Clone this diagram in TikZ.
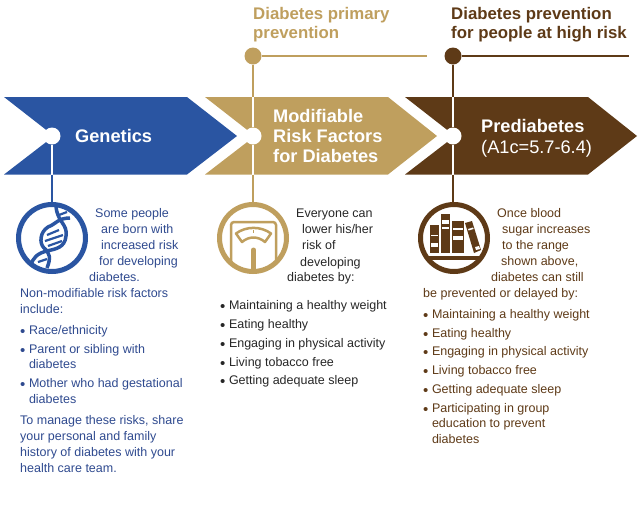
\documentclass[tikz,border=0pt]{standalone}
\usepackage{fontspec}
\setmainfont{Liberation Sans}
\usetikzlibrary{positioning}
\definecolor{bluefill}{HTML}{2A55A2}
\definecolor{bluetext}{HTML}{2F4A8F}
\definecolor{tanfill}{HTML}{BF9F5E}
\definecolor{brownfill}{HTML}{5E3A17}
\newcommand{\bul}{\makebox[8.8pt][l]{\raisebox{-2pt}{\fontsize{15}{15}\selectfont •}}}
\tikzset{
  lbl/.style={anchor=base west,inner sep=0,font=\fontsize{12.5}{14}\selectfont},
  arrowtxt/.style={anchor=base west,inner sep=0,font=\fontsize{18.2}{20}\selectfont\bfseries,text=white},
  headtxt/.style={anchor=base west,inner sep=0,font=\fontsize{16.8}{19}\selectfont\bfseries},
  hole/.style={circle,fill=white,inner sep=0,minimum size=17pt},
  dot/.style={circle,inner sep=0,minimum size=17pt},
  ring/.style={circle,draw,line width=5pt,fill=white,inner sep=0,minimum size=67pt},
  link/.style={line width=2.8pt},
}
\begin{document}
\begin{tikzpicture}[x=1pt,y=-1pt]
        \useasboundingbox (0,0) rectangle (639,531);
        % chevrons
        \fill[bluefill] (4,97) -- (187,97) -- (237,136) -- (187,174.5) -- (4,174.5) -- (54,136) -- cycle;
        \fill[tanfill] (205,97) -- (388,97) -- (437,136) -- (388,174.5) -- (205,174.5) -- (255,136) -- cycle;
        \fill[brownfill] (405,97) -- (588,97) -- (637,136) -- (588,174.5) -- (405,174.5) -- (455,136) -- cycle;
        % timeline nodes
        \node[hole] (gen) at (52,136) {};
        \node[hole] (mod) at (253,136) {};
        \node[hole] (pre) at (453,136) {};
        \node[dot,fill=tanfill] (primary) at (253,56) {};
        \node[dot,fill=brownfill] (highrisk) at (453,56) {};
        \coordinate (primaryend) at (427,56);
        \coordinate (highriskend) at (629,56);
        \coordinate (genbot) at (52,174.5);
        \coordinate (modtop) at (253,97);
        \coordinate (modbot) at (253,174.5);
        \coordinate (pretop) at (453,97);
        \coordinate (prebot) at (453,174.5);
        % connectors
        \draw[link,white] (gen) -- (genbot);
        \draw[link,bluefill] (genbot) -- (52,210);
        \draw[link,tanfill] (primary) -- (primaryend);
        \draw[link,tanfill] (primary) -- (modtop);
        \draw[link,white] (modtop) -- (mod);
        \draw[link,white] (mod) -- (modbot);
        \draw[link,tanfill] (modbot) -- (253,210);
        \draw[link,brownfill] (highrisk) -- (highriskend);
        \draw[link,brownfill] (highrisk) -- (pretop);
        \draw[link,white] (pretop) -- (pre);
        \draw[link,white] (pre) -- (prebot);
        \draw[link,brownfill] (prebot) -- (453,210);
        % icons
        \node[ring,draw=bluefill] (genes) at (52,238) {};
        \node[ring,draw=tanfill] (scale) at (253,238) {};
        \node[ring,draw=brownfill] (books) at (454,238) {};
        % dna
        \begin{scope}[bluefill,line width=3.5pt]
            \draw (56,206) .. controls (57,222) and (68,224) .. (66,236) .. controls (65,248) and (55,249) .. (47,251) .. controls (38,253) and (32,258) .. (31,266);
            \draw (70,218) .. controls (58,218) and (56,224) .. (48,227) .. controls (40,232) and (39,243) .. (44,248) .. controls (50,253) and (51,258) .. (47,268);
            \draw[line width=2.2pt] (47,235) -- (59,230);
            \draw[line width=2.2pt] (45,241) -- (63,235);
            \draw[line width=2.2pt] (48,246) -- (62,241);
            \draw[line width=2.2pt] (59,215) -- (67,212);
            \draw[line width=2.2pt] (38,262) -- (47,259);
        \end{scope}
        % scale
        \begin{scope}[tanfill]
            \draw[line width=2.5pt,rounded corners=3pt] (231,264) -- (231,222) -- (276,222) -- (276,264);
            \draw[line width=2.5pt,line join=round] (236,233.5) .. controls (246,226) and (261,226) .. (271,233.5) -- (265,242) .. controls (258,236) and (249,236) .. (242,242) -- cycle;
            \draw[line width=1.5pt] (253.5,230) -- (253.5,233);
            \draw[line width=5pt,line cap=round] (253.5,250) -- (253.5,270);
        \end{scope}
        % books
        \begin{scope}[brownfill]
            \fill (430,225) rectangle (439,253);
            \fill (441,214) rectangle (450,253);
            \fill (452,221) rectangle (464,253);
            \fill (465,223) -- (472,221) -- (481,250) -- (474,253) -- cycle;
            \fill[white] (431,235) rectangle (438,236.2);
            \fill[white] (431,243) rectangle (438,246.5);
            \fill[white] (442,220) rectangle (449,224);
            \fill[white] (442,227) rectangle (449,228.5);
            \fill[white] (453,228) rectangle (463,230);
            \fill[white] (453,236) rectangle (463,239.5);
            \fill[white] (468,229) -- (473,227.5) -- (473.6,229) -- (468.6,230.5) -- cycle;
            \fill[white] (475,247) -- (479,246) -- (480,249) -- (476,250) -- cycle;
            \draw[line width=3.5pt] (428,258) -- (480,258);
        \end{scope}
        % texts
        \node[arrowtxt] (tgen) at (75,142) {Genetics};
        \node[arrowtxt] (tmod1) at (273,122) {Modifiable};
        \node[arrowtxt] (tmod2) at (273,142) {Risk Factors};
        \node[arrowtxt] (tmod3) at (273,162) {for Diabetes};
        \node[arrowtxt] (tpre1) at (481,132) {Prediabetes};
        \node[arrowtxt,font=\fontsize{18.2}{20}\selectfont] (tpre2) at (481,153) {(A1c=5.7-6.4)};
        \node[headtxt,text=tanfill] (hprim1) at (253,19) {Diabetes primary};
        \node[headtxt,text=tanfill] (hprim2) at (253,38) {prevention};
        \node[headtxt,text=brownfill] (hrisk1) at (451,19) {Diabetes prevention};
        \node[headtxt,text=brownfill] (hrisk2) at (451,38) {for people at high risk};
        \foreach \px/\py/\txt in {95/217/{Some people}, 101/233/{are born with}, 101/249/{increased risk},
            99/265/{for developing}, 89/281/{diabetes.}, 20/297/{Non-modifiable risk factors}, 20/313/{include:},
            20/334/{\bul Race/ethnicity}, 20/353/{\bul Parent or sibling with}, 28.8/368/{diabetes},
            20/387/{\bul Mother who had gestational}, 28.8/403/{diabetes}, 20/424/{To manage these risks, share},
            20/440/{your personal and family}, 20/456/{history of diabetes with your}, 20/472/{health care team.}}
            \node[lbl,text=bluetext] at (\px,\py) {\txt};
        \foreach \px/\py/\txt in {296/217/{Everyone can}, 302/233/{lower his/her}, 302/249/{risk of},
            300/266/{developing}, 287/281/{diabetes by:}, 220/309/{\bul Maintaining a healthy weight},
            220/328/{\bul Eating healthy}, 220/347/{\bul Engaging in physical activity},
            220/366/{\bul Living tobacco free}, 220/384/{\bul Getting adequate sleep}}
            \node[lbl,text=black!85] at (\px,\py) {\txt};
        \foreach \px/\py/\txt in {497/217/{Once blood}, 502/233/{sugar increases}, 502/249/{to the range},
            501/265/{shown above,}, 491/281/{diabetes can still}, 423/297/{be prevented or delayed by:},
            423/318/{\bul Maintaining a healthy weight}, 423/337/{\bul Eating healthy},
            423/355/{\bul Engaging in physical activity}, 423/374/{\bul Living tobacco free},
            423/393/{\bul Getting adequate sleep}, 423/412/{\bul Participating in group},
            431.8/427/{education to prevent}, 431.8/443/{diabetes}}
            \node[lbl,text=brownfill] at (\px,\py) {\txt};
\end{tikzpicture}
\end{document}
